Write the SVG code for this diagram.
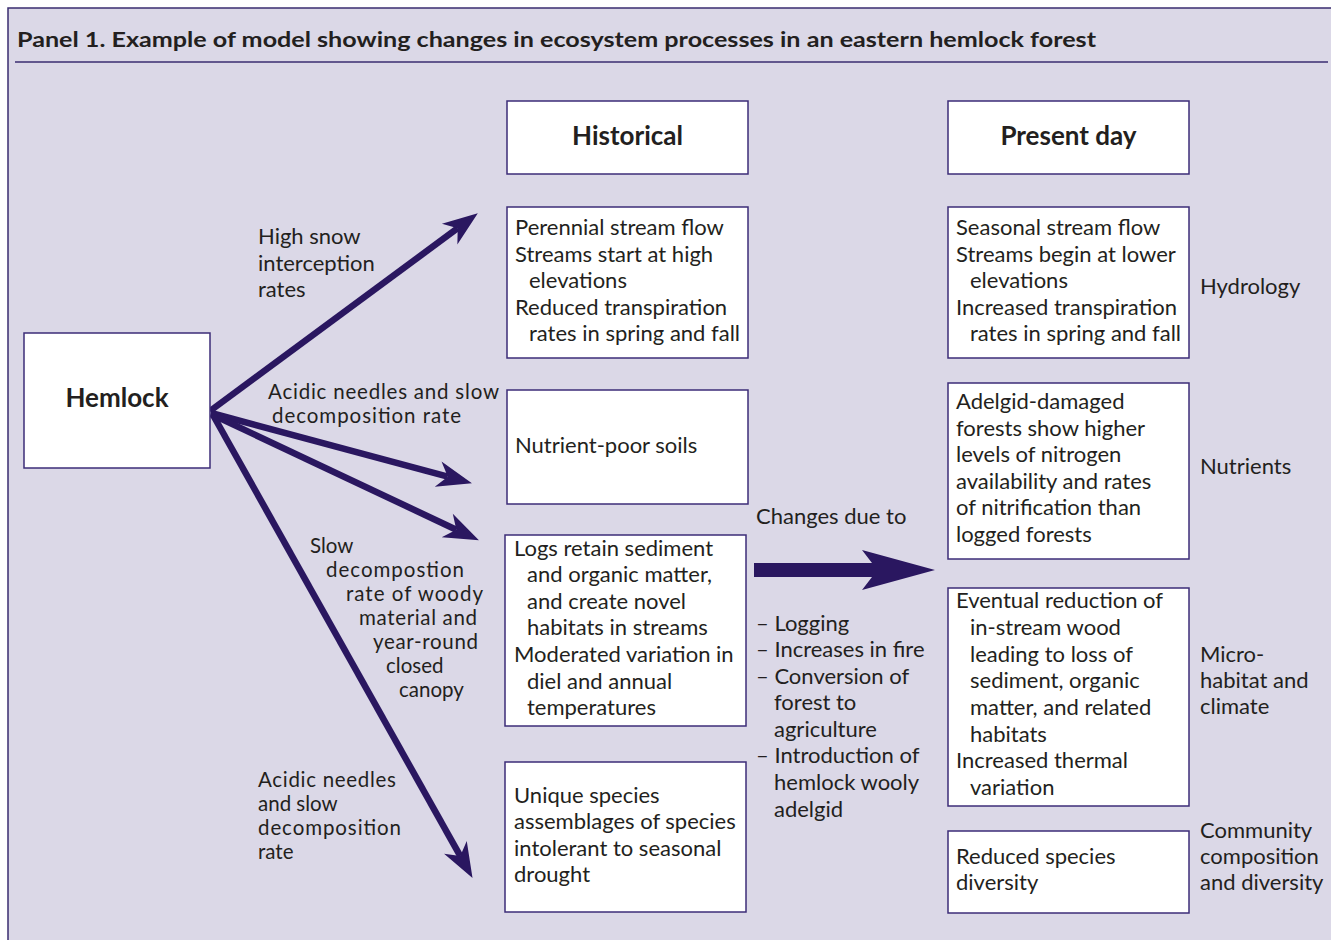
<svg xmlns="http://www.w3.org/2000/svg" width="1331" height="940" viewBox="0 0 1331 940">
<defs>
<style>
.t{font-family:Lato,"Liberation Sans",sans-serif;font-size:22px;fill:#231f20}
.s{font-family:Lato,"Liberation Sans",sans-serif;font-size:20.5px;fill:#231f20}
.b{font-family:Lato,"Liberation Sans",sans-serif;font-weight:bold;fill:#231f20}
.box{fill:#ffffff;stroke:#3d2c78;stroke-width:1.5}
.arr{stroke:#2a1760;stroke-width:6.5;fill:none;marker-end:url(#head)}
</style>
<marker id="head" markerUnits="userSpaceOnUse" orient="auto" refX="0" refY="0" markerWidth="40" markerHeight="30" overflow="visible">
<path d="M-10,-13 L25,0 L-10,13 L0,0 Z" fill="#2a1760"/>
</marker>
</defs>
<rect x="0" y="0" width="1331" height="940" fill="#ffffff"/>
<rect x="8" y="8" width="1340" height="950" fill="#dbd8e7" stroke="#3a2d70" stroke-width="1.5"/>
<text class="b" x="17" y="47" font-size="21" textLength="1079" lengthAdjust="spacingAndGlyphs">Panel 1. Example of model showing changes in ecosystem processes in an eastern hemlock forest</text>
<line x1="15" y1="62" x2="1328" y2="62" stroke="#3a2d70" stroke-width="1.5"/>

<g id="connectors">
<line class="arr" x1="210" y1="411" x2="457.7" y2="228.2"/>
<line class="arr" x1="211" y1="413" x2="447.8" y2="476.7"/>
<line class="arr" x1="211" y1="414" x2="456.3" y2="529.7"/>
<line class="arr" x1="213" y1="415" x2="460.3" y2="856.1"/>
<polygon points="754,563 872,563 862,550 935,570 862,590 872,577 754,577" fill="#2a1760"/>
</g>

<g id="hemlock">
<rect class="box" x="24" y="333" width="186" height="135"/>
<text class="b" x="117" y="407" font-size="26" text-anchor="middle">Hemlock</text>
</g>

<g id="historical">
<rect class="box" x="507" y="101" width="241" height="73"/>
<text class="b" x="627.5" y="145" font-size="26" text-anchor="middle">Historical</text>
</g>

<g id="present">
<rect class="box" x="948" y="101" width="241" height="73"/>
<text class="b" x="1068.5" y="145" font-size="26" text-anchor="middle">Present day</text>
</g>

<g id="hist-hydrology">
<rect class="box" x="507" y="207" width="241" height="151"/>
<text class="t" x="515" y="235">Perennial stream flow</text>
<text class="t" x="515" y="262">Streams start at high</text>
<text class="t" x="529" y="288">elevations</text>
<text class="t" x="515" y="315">Reduced transpiration</text>
<text class="t" x="529" y="341">rates in spring and fall</text>
</g>

<g id="hist-nutrients">
<rect class="box" x="507" y="390" width="241" height="114"/>
<text class="t" x="515" y="453">Nutrient-poor soils</text>
</g>

<g id="hist-microhabitat">
<rect class="box" x="505" y="535" width="241" height="191"/>
<text class="t" x="514" y="556">Logs retain sediment</text>
<text class="t" x="527" y="582">and organic matter,</text>
<text class="t" x="527" y="609">and create novel</text>
<text class="t" x="527" y="635">habitats in streams</text>
<text class="t" x="514" y="662">Moderated variation in</text>
<text class="t" x="527" y="689">diel and annual</text>
<text class="t" x="527" y="715">temperatures</text>
</g>

<g id="hist-community">
<rect class="box" x="505" y="762" width="241" height="150"/>
<text class="t" x="514" y="803">Unique species</text>
<text class="t" x="514" y="829">assemblages of species</text>
<text class="t" x="514" y="856">intolerant to seasonal</text>
<text class="t" x="514" y="882">drought</text>
</g>

<g id="pres-hydrology">
<rect class="box" x="948" y="207" width="241" height="151"/>
<text class="t" x="956" y="235">Seasonal stream flow</text>
<text class="t" x="956" y="262">Streams begin at lower</text>
<text class="t" x="970" y="288">elevations</text>
<text class="t" x="956" y="315">Increased transpiration</text>
<text class="t" x="970" y="341">rates in spring and fall</text>
</g>

<g id="pres-nutrients">
<rect class="box" x="948" y="383" width="241" height="176"/>
<text class="t" x="956" y="409">Adelgid-damaged</text>
<text class="t" x="956" y="436">forests show higher</text>
<text class="t" x="956" y="462">levels of nitrogen</text>
<text class="t" x="956" y="489">availability and rates</text>
<text class="t" x="956" y="515">of nitrification than</text>
<text class="t" x="956" y="542">logged forests</text>
</g>

<g id="pres-microhabitat">
<rect class="box" x="948" y="588" width="241" height="218"/>
<text class="t" x="956" y="608">Eventual reduction of</text>
<text class="t" x="970" y="635">in-stream wood</text>
<text class="t" x="970" y="662">leading to loss of</text>
<text class="t" x="970" y="688">sediment, organic</text>
<text class="t" x="970" y="715">matter, and related</text>
<text class="t" x="970" y="742">habitats</text>
<text class="t" x="956" y="768">Increased thermal</text>
<text class="t" x="970" y="795">variation</text>
</g>

<g id="pres-community">
<rect class="box" x="948" y="831" width="241" height="82"/>
<text class="t" x="956" y="864">Reduced species</text>
<text class="t" x="956" y="890">diversity</text>
</g>

<g id="category-labels">
<text class="t" x="1200" y="294">Hydrology</text>
<text class="t" x="1200" y="474">Nutrients</text>
<text class="t" x="1200" y="662">Micro-</text>
<text class="t" x="1200" y="688">habitat and</text>
<text class="t" x="1200" y="714">climate</text>
<text class="t" x="1200" y="838">Community</text>
<text class="t" x="1200" y="864">composition</text>
<text class="t" x="1200" y="890">and diversity</text>
</g>

<g id="changes-labels">
<text class="t" x="756" y="524">Changes due to</text>
<text class="t" x="756" y="631">– Logging</text>
<text class="t" x="756" y="657">– Increases in fire</text>
<text class="t" x="756" y="684">– Conversion of</text>
<text class="t" x="774" y="710">forest to</text>
<text class="t" x="774" y="737">agriculture</text>
<text class="t" x="756" y="763">– Introduction of</text>
<text class="t" x="774" y="790">hemlock wooly</text>
<text class="t" x="774" y="817">adelgid</text>
</g>

<g id="arrow-labels">
<text class="t" x="258" y="244">High snow</text>
<text class="t" x="258" y="271">interception</text>
<text class="t" x="258" y="297">rates</text>
<text class="s" x="268" y="399" textLength="231">Acidic needles and slow</text>
<text class="s" x="272" y="423" textLength="189">decomposition rate</text>
<text class="s" x="310" y="553">Slow</text>
<text class="s" x="326" y="577" textLength="138">decompostion</text>
<text class="s" x="346" y="601" textLength="137">rate of woody</text>
<text class="s" x="359" y="625" textLength="118">material and</text>
<text class="s" x="373" y="649" textLength="105">year-round</text>
<text class="s" x="386" y="673">closed</text>
<text class="s" x="399" y="697">canopy</text>
<text class="s" x="258" y="787" textLength="138">Acidic needles</text>
<text class="s" x="258" y="811">and slow</text>
<text class="s" x="258" y="835" textLength="143">decomposition</text>
<text class="s" x="258" y="859">rate</text>
</g>
</svg>
